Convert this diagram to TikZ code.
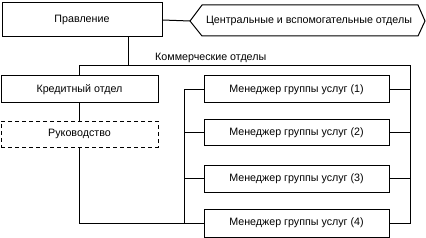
\documentclass[tikz,border=0pt]{standalone}
\usepackage{fontspec}
\setmainfont{Liberation Sans}
\begin{document}
\begin{tikzpicture}[x=1pt,y=-1pt,
  txt/.style={font=\fontsize{10.7}{12}\selectfont},
  box/.style={draw, line width=1pt, inner sep=0pt, txt},
  dbox/.style={box, dash pattern=on 4pt off 3pt},
  conn/.style={line width=1pt}]
\useasboundingbox (0,0) rectangle (426,238);
% boxes
\node[box, minimum width=160pt, minimum height=34pt] (prav) at (82,20) {Правление};
\node[box, minimum width=157pt, minimum height=27pt] (kred) at (79.5,89.5) {Кредитный отдел};
\node[dbox, minimum width=157pt, minimum height=26pt] (ruk) at (79.5,134) {Руководство};
\node[box, minimum width=185pt, minimum height=27pt] (m1) at (296.5,89.5) {Менеджер группы услуг (1)};
\node[box, minimum width=185pt, minimum height=26pt] (m2) at (296.5,132.5) {Менеджер группы услуг (2)};
\node[box, minimum width=185pt, minimum height=27pt] (m3) at (296.5,178.5) {Менеджер группы услуг (3)};
\node[box, minimum width=185pt, minimum height=28pt] (m4) at (296.5,223) {Менеджер группы услуг (4)};
% hexagon
\draw[conn] (190,21) -- (202,5) -- (418,5) -- (425,21) -- (418,36) -- (202,36) -- cycle;
\node[txt, inner sep=0pt] (cent) at (309,21) {Центральные и вспомогательные отделы};
\coordinate (hexW) at (190,21);
\node[txt, anchor=south west, inner sep=0pt] (kom) at (155,63) {Коммерческие отделы};
% bus coordinates
\coordinate (busM) at (128,66);
\coordinate (busR) at (410,66);
\coordinate (busL) at (184,0);
% connectors
\draw[conn] (prav.east) -- (hexW);
\draw[conn] (prav.south -| busM) -- (busM);
\draw[conn] (kred.north) |- (busR) -- (m4.east -| busR) -- (m4.east);
\draw[conn] (m1.east) -- (m1.east -| busR);
\draw[conn] (m2.east) -- (m2.east -| busR);
\draw[conn] (m3.east) -- (m3.east -| busR);
\draw[conn] (kred.south) -- (ruk.north);
\draw[conn] (ruk.south) |- (m4.west);
\draw[conn] (m1.west) -- (m1.west -| busL) -- (m4.west -| busL);
\draw[conn] (m2.west) -- (m2.west -| busL);
\draw[conn] (m3.west) -- (m3.west -| busL);
\end{tikzpicture}
\end{document}
